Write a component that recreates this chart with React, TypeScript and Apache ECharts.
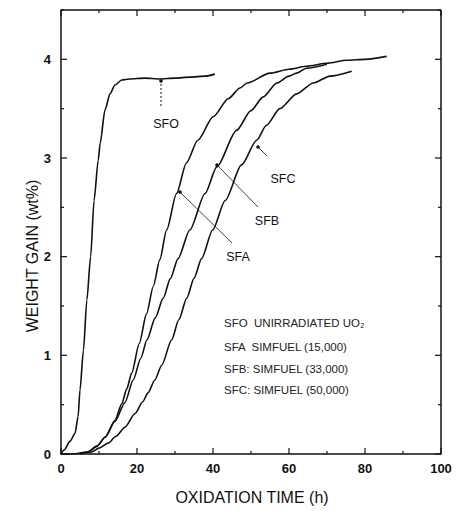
import React, { useEffect, useRef } from "react";
import * as echarts from "echarts";

const xTicks = [0, 20, 40, 60, 80, 100];
const yTicks = [0, 1, 2, 3, 4];
const xAllTicks = [0, 10, 20, 30, 40, 50, 60, 70, 80, 90, 100];
const yAllTicks = [0, 0.5, 1, 1.5, 2, 2.5, 3, 3.5, 4, 4.5];

const sfoT = [0, 0.8, 2.4, 3.7, 4.5, 5.0, 5.9, 6.8, 7.8, 8.7, 9.8, 10.3, 11.6, 12.9, 14.2, 16, 18, 22, 26, 30, 34, 38, 40.5];
const sfoW = [0, 0.04, 0.13, 0.21, 0.38, 0.65, 1.05, 1.56, 2.0, 2.57, 2.98, 3.15, 3.49, 3.65, 3.74, 3.79, 3.8, 3.81, 3.8, 3.81, 3.82, 3.83, 3.85];

const sfaT = [0, 3, 7, 9.5, 11.6, 14.2, 16, 17.3, 18.6, 20.6, 22.5, 24.3, 26, 27.8, 30.4, 33, 36, 40.1, 44, 47.1, 49, 55, 60, 64.6, 70, 75.2, 80, 85.7];
const sfaW = [0, 0.0, 0.02, 0.08, 0.17, 0.34, 0.51, 0.66, 0.82, 1.12, 1.42, 1.7, 1.97, 2.27, 2.64, 2.95, 3.18, 3.42, 3.6, 3.71, 3.76, 3.86, 3.9, 3.93, 3.96, 3.99, 4.0, 4.03];

const sfbT = [5, 7, 9.5, 11.6, 14.2, 16.8, 19, 21, 22.6, 24.8, 26.9, 28.8, 30.8, 33.9, 37.9, 41, 46.2, 50, 53.2, 56.8, 60, 62, 64.6, 70];
const sfbW = [0, 0.02, 0.08, 0.17, 0.33, 0.52, 0.75, 0.97, 1.155, 1.38, 1.58, 1.78, 1.98, 2.27, 2.64, 2.91, 3.28, 3.48, 3.62, 3.76, 3.83, 3.86, 3.91, 3.95];

const sfcT = [5, 8, 10, 12.4, 14.5, 16.8, 19.5, 21.5, 22.9, 24.7, 26.5, 29.1, 31, 33.1, 35, 37, 39.9, 43.2, 47.5, 51.5, 54, 57.6, 62, 66.4, 70.8, 76.5];
const sfcW = [0, 0.02, 0.06, 0.11, 0.18, 0.27, 0.41, 0.53, 0.62, 0.75, 0.9, 1.155, 1.36, 1.58, 1.78, 1.98, 2.27, 2.57, 2.93, 3.18, 3.33, 3.5, 3.65, 3.76, 3.83, 3.88];

const legendLines = [
  "SFO  UNIRRADIATED UO\u2082",
  "SFA  SIMFUEL (15,000)",
  "SFB: SIMFUEL (33,000)",
  "SFC: SIMFUEL (50,000)",
];

const FONT = "Liberation Sans";

function pairs(t: number[], w: number[]) {
  return t.map((v, i) => [v, w[i]]);
}

export default function App() {
  const ref = useRef<HTMLDivElement>(null);
  useEffect(() => {
    const chart = echarts.init(ref.current!, null, { renderer: "svg" });
    const lineSeries = (name: string, t: number[], w: number[]) => ({
      name,
      type: "line",
      data: pairs(t, w),
      showSymbol: false,
      smooth: 0.25,
      smoothMonotone: "x",
      lineStyle: { color: "#111", width: 1.6 },
    });
    const txt = (x: number, y: number, text: string, size: number, extra: any = {}) => ({
      type: "text",
      x,
      y,
      ...extra,
      style: { text, fontFamily: FONT, fontSize: size, fill: "#111", align: "center", verticalAlign: "middle" },
    });
    const ln = (x1: number, y1: number, x2: number, y2: number, w: number, dash?: number[]) => ({
      type: "line",
      z: 10,
      shape: { x1, y1, x2, y2 },
      style: dash ? { stroke: "#111", lineWidth: w, lineDash: dash } : { stroke: "#111", lineWidth: w },
    });
    const legendGraphics = legendLines.map((s, i) => ({
      type: "text",
      x: 224,
      y: [323, 347, 369, 390][i],
      style: { text: s, fontFamily: FONT, fontSize: 11.5, fill: "#222", align: "left", verticalAlign: "middle" },
    }));
    const staticGraphics: any[] = [
      txt(32, 256, "WEIGHT GAIN (wt%)", 16, { rotation: Math.PI / 2 }),
      txt(252, 497, "OXIDATION TIME (h)", 16),
      txt(166, 124, "SFO", 12.5),
      txt(283, 179, "SFC", 12.5),
      txt(267, 221, "SFB", 12.5),
      txt(238, 257, "SFA", 12.5),
      ln(161, 84, 161, 107, 1, [2, 2]),
      { type: "circle", shape: { cx: 161, cy: 81, r: 1.8 }, style: { fill: "#111" } },
      ln(258, 147, 267, 156, 0.8),
      { type: "circle", shape: { cx: 258, cy: 147, r: 1.8 }, style: { fill: "#111" } },
      ln(217, 165, 258, 207, 0.8),
      { type: "circle", shape: { cx: 217, cy: 165, r: 1.8 }, style: { fill: "#111" } },
      ln(180, 192, 232, 243, 0.8),
      { type: "circle", shape: { cx: 180, cy: 192, r: 1.8 }, style: { fill: "#111" } },
      ...legendGraphics,
    ];
    chart.setOption({
      animation: false,
      grid: { left: 61, right: 18, top: 10, bottom: 57 },
      xAxis: {
        type: "value",
        min: 0,
        max: 100,
        interval: 20,
        axisLine: { show: true, onZero: false, lineStyle: { color: "#111", width: 1.5 } },
        axisTick: { show: false },
        splitLine: { show: false },
        axisLabel: { color: "#111", fontFamily: FONT, fontSize: 13, fontWeight: "bold", margin: 8 },
      },
      yAxis: {
        type: "value",
        min: 0,
        max: 4.5,
        interval: 1,
        axisLine: { show: true, onZero: false, lineStyle: { color: "#111", width: 1.5 } },
        axisTick: { show: false },
        splitLine: { show: false },
        axisLabel: {
          color: "#111",
          fontFamily: FONT,
          fontSize: 13,
          fontWeight: "bold",
          margin: 10,
          showMaxLabel: false,
          formatter: (v: number) => (yTicks.includes(v) ? String(v) : ""),
        },
      },
      series: [
        lineSeries("SFO", sfoT, sfoW),
        lineSeries("SFA", sfaT, sfaW),
        lineSeries("SFB", sfbT, sfbW),
        lineSeries("SFC", sfcT, sfcW),
      ],
    });

    const px = (v: number) => Number(chart.convertToPixel({ xAxisIndex: 0 }, v));
    const py = (v: number) => Number(chart.convertToPixel({ yAxisIndex: 0 }, v));
    const x0 = px(0);
    const x1 = px(100);
    const y0 = py(0);
    const y1 = py(4.5);
    const frame = [ln(x0, y1, x1, y1, 1.5), ln(x1, y1, x1, y0, 1.5)];
    const ticks: any[] = [];
    xAllTicks.forEach((v) => {
      const len = xTicks.includes(v) ? 6 : 3;
      const x = px(v);
      ticks.push(ln(x, y0, x, y0 - len, 1.2));
      ticks.push(ln(x, y1, x, y1 + len, 1.2));
    });
    yAllTicks.forEach((v) => {
      const len = yTicks.includes(v) ? 6 : 3;
      const y = py(v);
      ticks.push(ln(x0, y, x0 + len, y, 1.2));
      ticks.push(ln(x1, y, x1 - len, y, 1.2));
    });
    chart.setOption({ graphic: { elements: [...staticGraphics, ...frame, ...ticks] } });
    return () => chart.dispose();
  }, []);
  return <div ref={ref} style={{ width: 459, height: 511, position: "absolute", left: 0, top: 0, background: "#fff" }} />;
}
